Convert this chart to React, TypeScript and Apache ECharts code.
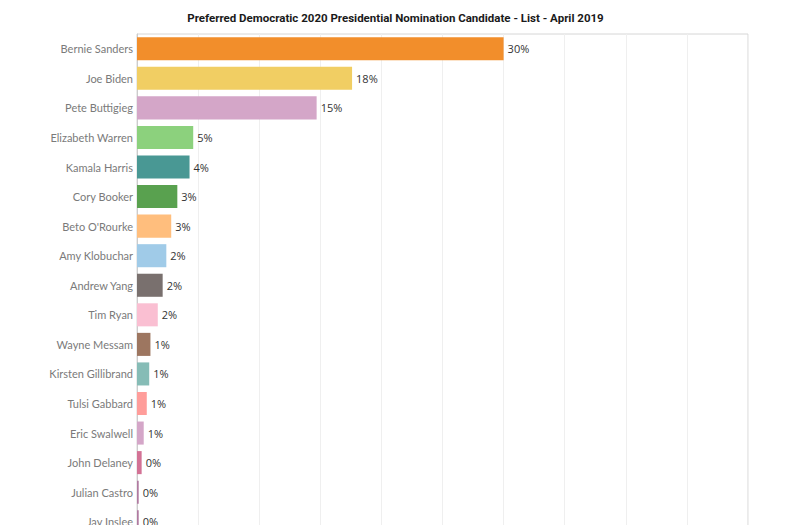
import React, { useEffect, useRef } from "react";
import * as echarts from "echarts";

// Candidates, top to bottom
const candidates = [
  "Bernie Sanders",
  "Joe Biden",
  "Pete Buttigieg",
  "Elizabeth Warren",
  "Kamala Harris",
  "Cory Booker",
  "Beto O'Rourke",
  "Amy Klobuchar",
  "Andrew Yang",
  "Tim Ryan",
  "Wayne Messam",
  "Kirsten Gillibrand",
  "Tulsi Gabbard",
  "Eric Swalwell",
  "John Delaney",
  "Julian Castro",
  "Jay Inslee",
];

// Share of respondents (%)
const shares = [
  30.0, 17.6, 14.7, 4.6, 4.3, 3.3, 2.8, 2.4, 2.1, 1.7, 1.1, 1.0, 0.8, 0.55, 0.38,
  0.14, 0.14,
];

const barColors = [
  "#F28E2B",
  "#F1CE63",
  "#D4A6C8",
  "#8CD17D",
  "#499894",
  "#59A14F",
  "#FFBE7D",
  "#A0CBE8",
  "#79706E",
  "#FABFD2",
  "#9D7660",
  "#86BCB6",
  "#FF9D9A",
  "#D4A6C8",
  "#D37295",
  "#B07AA1",
  "#B07AA1",
];

const titleText =
  "Preferred Democratic 2020 Presidential Nomination Candidate - List - April 2019";

export default function App() {
  const ref = useRef<HTMLDivElement>(null);

  useEffect(() => {
    if (!ref.current) return;
    const chart = echarts.init(ref.current, undefined, { renderer: "svg" });
    chart.setOption({
      animation: false,
      backgroundColor: "#ffffff",
      title: {
        text: titleText,
        left: "center",
        top: 7,
        textStyle: {
          fontFamily: "'Roboto', sans-serif",
          fontWeight: "bold",
          fontSize: 11.5,
          color: "#1a1a1a",
        },
      },
      grid: {
        left: 137,
        top: 34,
        right: 43,
        height: candidates.length * 29.56,
        show: true,
        borderColor: "#d6d6d6",
        borderWidth: 1,
        backgroundColor: "transparent",
      },
      xAxis: {
        type: "value",
        min: 0,
        max: 50,
        interval: 5,
        axisLabel: { show: false },
        axisTick: { show: false },
        axisLine: { show: false },
        splitLine: { show: true, lineStyle: { color: "#efefef", width: 1 } },
      },
      yAxis: {
        type: "category",
        inverse: true,
        data: candidates,
        axisTick: { show: false },
        axisLine: { show: true, lineStyle: { color: "#cccccc" } },
        axisLabel: {
          color: "#7a7a7a",
          fontSize: 11,
          fontFamily: "'Lato', sans-serif",
          margin: 4,
        },
      },
      series: [
        {
          type: "bar",
          barCategoryGap: "22%",
          data: shares.map((v, i) => ({
            value: v,
            itemStyle: { color: barColors[i] },
          })),
          label: {
            show: true,
            position: "right",
            distance: 4,
            color: "#333333",
            fontSize: 11,
            fontFamily: "'Open Sans', sans-serif",
            formatter: (p: any) => `${Math.round(p.value)}%`,
          },
        },
      ],
    });
    return () => chart.dispose();
  }, []);

  return (
    <div
      style={{
        position: "fixed",
        left: 0,
        top: 0,
        width: 791,
        height: 525,
        overflow: "hidden",
        background: "#fff",
      }}
    >
      <div ref={ref} style={{ width: 791, height: 548 }} />
    </div>
  );
}
